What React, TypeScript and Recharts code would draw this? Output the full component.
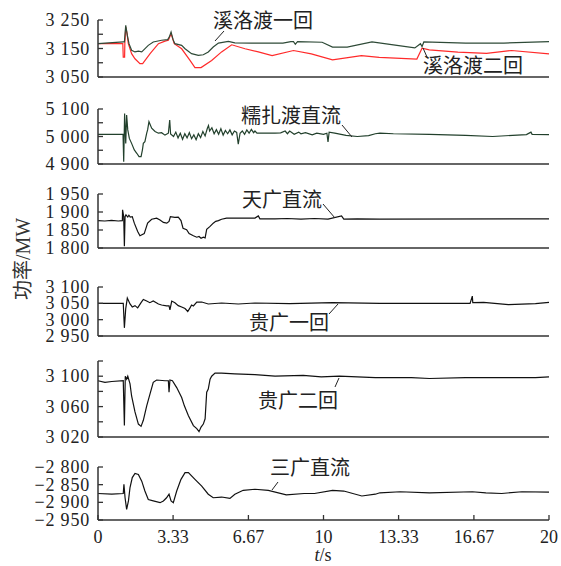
import { Line, LineChart, XAxis, YAxis } from 'recharts';

// time axis (s)
const timeTicks = [0, 3.33, 6.67, 10, 13.33, 16.67, 20];
const timeLabels = ['0', '3.33', '6.67', '10', '13.33', '16.67', '20'];

// 溪洛渡一回 [t, MW]
const xldLine1: [number, number][] = [
  [0, 3167], [1.12, 3173], [1.17, 3173], [1.23, 3231], [1.3, 3196], [1.375, 3167], [1.49, 3144],
  [1.64, 3138], [1.79, 3141], [1.94, 3138], [2.23, 3161], [2.45, 3173], [2.82, 3179], [3.09, 3181],
  [3.16, 3190], [3.24, 3208], [3.33, 3181], [3.41, 3167], [3.71, 3161], [3.86, 3149], [4.15, 3132],
  [4.45, 3126], [4.67, 3128], [4.89, 3138], [5.11, 3155], [5.34, 3169], [5.78, 3175], [6.07, 3170],
  [6.8, 3169], [8.2, 3169], [8.55, 3174], [8.67, 3174], [8.75, 3165], [8.85, 3174], [9.94, 3172],
  [10.4, 3155], [11.05, 3155], [12.15, 3173], [13.1, 3163], [14.05, 3152], [14.3, 3167], [14.37, 3157],
  [14.45, 3173], [16.3, 3169], [18, 3169], [20, 3174],
];

// 溪洛渡二回
const xldLine2: [number, number][] = [
  [0, 3167], [1.1, 3167], [1.12, 3120], [1.18, 3120], [1.19, 3167], [1.23, 3225], [1.29, 3202],
  [1.345, 3167], [1.49, 3132], [1.64, 3114], [1.86, 3097], [1.98, 3097], [2.31, 3132], [2.68, 3167],
  [2.97, 3176], [3.12, 3179], [3.24, 3202], [3.38, 3167], [3.71, 3149], [4.08, 3108], [4.3, 3083],
  [4.57, 3083], [5.04, 3108], [5.48, 3138], [5.93, 3163], [6.52, 3149], [7.11, 3138], [7.72, 3125],
  [8.67, 3143], [9.46, 3131], [10.4, 3110], [11.68, 3125], [12.47, 3119], [14.14, 3113], [14.37, 3151],
  [14.69, 3145], [15.96, 3137], [17.23, 3133], [18.34, 3143], [20, 3131],
];

// 糯扎渡直流
const nzdDc: [number, number][] = [
  [0, 5008], [1.11, 5008], [1.14, 4908], [1.18, 5084], [1.23, 4975], [1.27, 5078], [1.32, 5024],
  [1.39, 4993], [1.49, 4975], [1.61, 4951], [1.72, 4939], [1.82, 4927], [1.91, 4927], [1.97, 4951],
  [2.01, 4975], [2.08, 4981], [2.16, 5012], [2.2, 5024], [2.26, 5054], [2.38, 5030], [2.53, 5018],
  [2.68, 5012], [2.82, 5014], [2.97, 5005], [3.12, 5012], [3.18, 5060], [3.22, 5009], [3.35, 5000],
  [3.45, 5016], [3.55, 4995], [3.65, 5012], [3.75, 4990], [3.85, 5010], [3.95, 4995], [4.05, 5014],
  [4.15, 4992], [4.25, 5006], [4.35, 4988], [4.45, 5010], [4.55, 4996], [4.65, 5018], [4.75, 5002],
  [4.85, 5030], [4.9, 5040], [4.95, 5020], [5.05, 5032], [5.15, 5010], [5.25, 5025], [5.35, 5008],
  [5.45, 5028], [5.55, 5005], [5.65, 5022], [5.75, 5010], [5.85, 5024], [5.95, 5006], [6.05, 5020],
  [6.15, 5015], [6.22, 4972], [6.3, 5012], [6.4, 5020], [6.5, 5008], [6.6, 5024], [6.7, 5012],
  [6.8, 5026], [6.9, 5014], [6.96, 5020], [7.05, 5012], [7.85, 5012], [8.1, 5013], [8.3, 5020],
  [8.4, 5010], [8.5, 5020], [8.7, 5008], [8.9, 5016], [9.0, 5010], [9.2, 5014], [9.5, 5006],
  [9.7, 5012], [10.0, 5008], [10.15, 5012], [10.2, 4980], [10.25, 5016], [10.5, 5012], [11.0, 5004],
  [11.5, 5000], [12.0, 5003], [12.3, 5010], [12.5, 5012], [13.1, 5010], [14.7, 5008], [16.3, 5004],
  [17.5, 5000], [19.0, 5007], [19.2, 5016], [19.25, 5008], [20, 5007],
];

// 天广直流
const tgDc: [number, number][] = [
  [0, 1876], [0.3, 1875], [0.6, 1877], [0.9, 1875], [1.08, 1876], [1.09, 1906], [1.14, 1887],
  [1.17, 1805], [1.2, 1887], [1.24, 1892], [1.32, 1886], [1.37, 1891], [1.43, 1886], [1.52, 1887],
  [1.61, 1869], [1.76, 1846], [1.86, 1834], [2.05, 1840], [2.2, 1869], [2.38, 1880], [2.6, 1883],
  [2.75, 1878], [2.9, 1871], [3.05, 1869], [3.15, 1874], [3.21, 1887], [3.41, 1885], [3.56, 1886],
  [3.68, 1876], [3.77, 1855], [3.93, 1851], [4.04, 1840], [4.23, 1834], [4.38, 1830], [4.48, 1832],
  [4.57, 1827], [4.67, 1830], [4.75, 1828], [4.82, 1852], [4.97, 1860], [5.11, 1869], [5.22, 1874],
  [5.34, 1876], [5.48, 1880], [5.7, 1883], [6.96, 1883], [7.11, 1889], [7.18, 1881], [7.85, 1881],
  [8.4, 1882], [9.0, 1880], [9.6, 1882], [10.2, 1880], [10.8, 1889], [10.9, 1880], [11.5, 1881],
  [12.5, 1880], [20, 1881],
];

// 贵广一回
const ggLine1: [number, number][] = [
  [0, 3050], [1.12, 3050], [1.17, 2975], [1.23, 3034], [1.3, 3066], [1.42, 3048], [1.52, 3039],
  [1.64, 3043], [1.76, 3036], [1.91, 3052], [2.01, 3062], [2.16, 3057], [2.3, 3052], [2.45, 3057],
  [2.68, 3048], [2.82, 3045], [3.04, 3042], [3.15, 3042], [3.19, 3030], [3.27, 3057], [3.41, 3052],
  [3.56, 3043], [3.71, 3039], [3.86, 3034], [3.98, 3025], [4.08, 3036], [4.15, 3045], [4.23, 3042],
  [4.38, 3054], [4.6, 3054], [4.89, 3048], [5.48, 3051], [6.22, 3048], [6.96, 3051], [8.5, 3049],
  [10.4, 3052], [12.5, 3050], [14.5, 3050], [16.5, 3050], [16.6, 3072], [16.62, 3052], [17.1, 3053],
  [18.2, 3046], [19.4, 3049], [20, 3053],
];

// 贵广二回
const ggLine2: [number, number][] = [
  [0, 3094], [0.31, 3092], [0.61, 3093], [1.12, 3094], [1.17, 3035], [1.21, 3100], [1.27, 3096],
  [1.32, 3100], [1.42, 3090], [1.49, 3074], [1.64, 3053], [1.79, 3037], [1.91, 3034], [2.01, 3042],
  [2.16, 3061], [2.31, 3077], [2.45, 3092], [2.6, 3095], [2.97, 3094], [3.12, 3094], [3.15, 3079],
  [3.19, 3095], [3.3, 3094], [3.49, 3085], [3.71, 3072], [3.83, 3061], [4.01, 3048], [4.23, 3035],
  [4.38, 3031], [4.48, 3027], [4.57, 3033], [4.67, 3037], [4.75, 3044], [4.82, 3079], [4.89, 3083],
  [4.97, 3096], [5.04, 3100], [5.19, 3104], [5.48, 3104], [6.07, 3103], [6.96, 3102], [7.85, 3100],
  [9.1, 3101], [9.9, 3099], [10.7, 3100], [12.3, 3098], [13.9, 3098], [14.7, 3097], [16.3, 3098],
  [17.9, 3098], [19.4, 3098], [20, 3099],
];

// 三广直流
const sgDc: [number, number][] = [
  [0, -2875], [0.61, -2877], [1.12, -2875], [1.15, -2849], [1.2, -2887], [1.27, -2920], [1.35, -2896],
  [1.42, -2858], [1.52, -2830], [1.64, -2818], [1.79, -2821], [1.94, -2840], [2.08, -2868], [2.23, -2892],
  [2.45, -2896], [2.75, -2901], [2.9, -2896], [3.04, -2887], [3.15, -2877], [3.24, -2896], [3.34, -2901],
  [3.49, -2868], [3.68, -2835], [3.86, -2816], [4.01, -2816], [4.3, -2835], [4.6, -2854], [4.89, -2877],
  [5.11, -2887], [5.48, -2885], [5.85, -2889], [6.07, -2877], [6.44, -2866], [6.96, -2863], [7.55, -2866],
  [8.35, -2879], [9.14, -2875], [9.6, -2875], [10.4, -2866], [10.9, -2868], [11.7, -2882], [12.3, -2877],
  [12.5, -2873], [13.4, -2870], [14.7, -2873], [16.6, -2870], [17.2, -2873], [17.9, -2875], [18.8, -2870],
  [20, -2871],
];

const rows = (pts: [number, number][]) => pts.map(([t, v]) => ({ t, v }));

const SERIF = "'Liberation Serif', 'Times New Roman', serif";
const CJK = "'Noto Sans CJK SC', sans-serif";
const AXIS = '#333';
const PAD = 12; // room above / below each plot so tick text is not clipped

function fmt(v: number) {
  const s = String(Math.abs(v));
  const body = s.length > 3 ? s.slice(0, s.length - 3) + ' ' + s.slice(-3) : s;
  return (v < 0 ? '\u2212' : '') + body;
}

function yTick(labeled: number[]) {
  return (p: any) => {
    const v = p.payload.value;
    return (
      <g>
        <line x1={p.x + 8} x2={p.x + 13} y1={p.y} y2={p.y} stroke={AXIS} strokeWidth={1.3} />
        {labeled.includes(v) && (
          <text x={p.x} y={p.y} dy={6} textAnchor="end" fontFamily={SERIF} fontSize={18} fill="#222" letterSpacing={0.8}>
            {fmt(v)}
          </text>
        )}
      </g>
    );
  };
}

function timeTick(p: any) {
  const i = timeTicks.indexOf(p.payload.value);
  return (
    <g>
      <line x1={p.x} x2={p.x} y1={p.y} y2={p.y - 5} stroke={AXIS} strokeWidth={1.3} />
      <text x={p.x} y={p.y + 23} textAnchor="middle" fontFamily={SERIF} fontSize={18} fill="#222">
        {timeLabels[i]}
      </text>
    </g>
  );
}

type Series = { pts: [number, number][]; color: string };

function Panel(props: {
  top: number; bottom: number; domain: [number, number]; ticks: number[]; labeled: number[];
  series: Series[]; showTime?: boolean;
}) {
  const { top, bottom, domain, ticks, labeled, series, showTime } = props;
  const xh = showTime ? 40 : 1;
  const mb = showTime ? 0 : PAD;
  const h = bottom - top + PAD + mb + xh;
  return (
    <div style={{ position: 'absolute', left: 0, top: top - PAD }}>
      <LineChart width={561} height={h} margin={{ top: PAD, right: 12, bottom: mb, left: 38 }}>
        <XAxis
          type="number" dataKey="t" domain={[0, 20]} ticks={timeTicks} interval={0}
          height={xh} tickSize={0} tickMargin={0} tickLine={false}
          tick={showTime ? timeTick : false}
          axisLine={{ stroke: AXIS, strokeWidth: 1.5 }} allowDuplicatedCategory={false}
        />
        <YAxis
          type="number" domain={domain} ticks={ticks} interval={0} width={60} allowDataOverflow
          tickSize={0} tickMargin={8} tickLine={false} tick={yTick(labeled)}
          axisLine={{ stroke: AXIS, strokeWidth: 1.5 }}
        />
        {series.map((s, i) => (
          <Line
            key={i} data={rows(s.pts)} dataKey="v" type="linear" stroke={s.color} strokeWidth={1.2}
            dot={false} activeDot={false} isAnimationActive={false}
          />
        ))}
      </LineChart>
    </div>
  );
}

const notes = [
  { text: '溪洛渡一回', x: 263, y: 21, lx: [224, 215], ly: [31, 41] },
  { text: '溪洛渡二回', x: 473, y: 66, lx: [427, 423], ly: [57, 48] },
  { text: '糯扎渡直流', x: 291, y: 116, lx: [342, 352], ly: [125, 137] },
  { text: '天广直流', x: 282, y: 200, lx: [323, 335], ly: [204, 218] },
  { text: '贵广一回', x: 289, y: 323, lx: [329, 338], ly: [314, 304] },
  { text: '贵广二回', x: 298, y: 401, lx: [335, 339], ly: [387, 378] },
  { text: '三广直流', x: 310, y: 468, lx: [278, 272], ly: [482, 490] },
];

export default function App() {
  return (
    <div style={{ position: 'absolute', left: 0, top: 0, width: 561, height: 566, background: '#fff' }}>
      <Panel top={20} bottom={77} domain={[3050, 3250]} ticks={[3050, 3100, 3150, 3200, 3250]}
        labeled={[3050, 3150, 3250]}
        series={[{ pts: xldLine2, color: '#ff2a2a' }, { pts: xldLine1, color: '#2e4a37' }]} />
      <Panel top={109} bottom={164} domain={[4900, 5100]} ticks={[4900, 4950, 5000, 5050, 5100]}
        labeled={[4900, 5000, 5100]} series={[{ pts: nzdDc, color: '#22402c' }]} />
      <Panel top={194} bottom={248} domain={[1800, 1950]} ticks={[1800, 1850, 1900, 1950]}
        labeled={[1800, 1850, 1900, 1950]} series={[{ pts: tgDc, color: '#111' }]} />
      <Panel top={287} bottom={336} domain={[2950, 3100]} ticks={[2950, 3000, 3050, 3100]}
        labeled={[2950, 3000, 3050, 3100]} series={[{ pts: ggLine1, color: '#111' }]} />
      <Panel top={361} bottom={437} domain={[3020, 3120]} ticks={[3020, 3040, 3060, 3080, 3100, 3120]}
        labeled={[3020, 3060, 3100]} series={[{ pts: ggLine2, color: '#111' }]} />
      <Panel top={467} bottom={520} domain={[-2950, -2800]} ticks={[-2950, -2900, -2850, -2800]}
        labeled={[-2950, -2900, -2850, -2800]} series={[{ pts: sgDc, color: '#111' }]} showTime />
      <svg width={561} height={566} style={{ position: 'absolute', left: 0, top: 0, pointerEvents: 'none' }}>
        {notes.map((n) => (
          <g key={n.text}>
            <text x={n.x} y={n.y} dy={7} textAnchor="middle" fontFamily={CJK} fontSize={20} fill="#222">
              {n.text}
            </text>
            <line x1={n.lx[0]} y1={n.ly[0]} x2={n.lx[1]} y2={n.ly[1]} stroke="#222" strokeWidth={1} />
          </g>
        ))}
        <text transform="translate(30 259) rotate(-90)" textAnchor="middle" fontFamily={SERIF} fontSize={20} fill="#333">
          <tspan fontFamily={CJK}>功率</tspan>/MW
        </text>
        <text x={323} y={561} textAnchor="middle" fontFamily={SERIF} fontSize={18} fill="#222">
          <tspan fontStyle="italic">t</tspan>/s
        </text>
      </svg>
    </div>
  );
}
